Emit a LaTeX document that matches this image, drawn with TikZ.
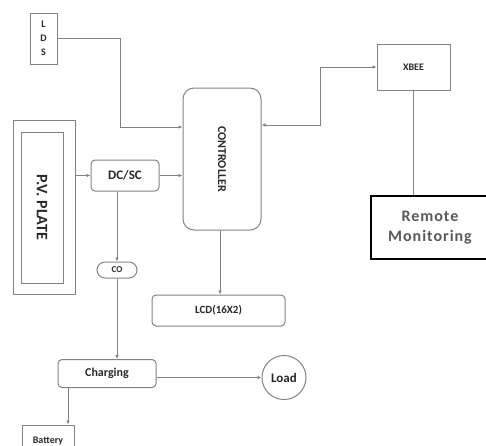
\documentclass[tikz,border=0pt]{standalone}
\usepackage{fontspec}
\setmainfont{Carlito}
\newfontfamily\spacedfont[LetterSpace=6]{Carlito}
\usepackage{tikz}
\usetikzlibrary{arrows.meta, positioning}
\definecolor{figline}{RGB}{130,130,130}
\definecolor{figtext}{RGB}{40,40,40}
\tikzstyle{arrow} = [-{Latex[length=4pt, width=3.5pt]}, line width=1pt, draw=figline]
\tikzstyle{plain} = [line width=1pt, draw=figline]
\tikzset{
    block/.style={draw=figline, line width=1pt, inner sep=0pt, text=figtext, font=\bfseries},
    softblock/.style={block, rounded corners=4pt},
}

\begin{document}
\begin{tikzpicture}[x=1pt, y=-1pt]
    \useasboundingbox (0,0) rectangle (486,445);

    % sensors and source
    \node[block, minimum width=27, minimum height=51, align=center,
        font=\bfseries\fontsize{10}{14}\selectfont] (lds) at (43.5,38.5) {L\\D\\S};
    \node[block, minimum width=62, minimum height=174] (pvframe) at (44,207) {};
    \node[block, minimum width=151, minimum height=42, rotate=-90,
        font=\bfseries\fontsize{16}{16}\selectfont] (pv) at (42,207.5) {P.V. PLATE};

    % conversion chain
    \node[softblock, minimum width=68, minimum height=31,
        font=\bfseries\fontsize{13}{13}\selectfont] (dcsc) at (125,175.5) {DC/SC};
    \node[block, rounded corners=8pt, minimum width=40, minimum height=16,
        font=\bfseries\fontsize{9}{9}\selectfont] (co) at (117,270) {CO};
    \node[softblock, minimum width=98, minimum height=28,
        font=\bfseries\fontsize{12}{12}\selectfont] (charging) at (107,373.5) {Charging};
    \node[block, circle, minimum size=44,
        font=\bfseries\fontsize{13}{13}\selectfont] (load) at (284,377.5) {Load};
    \node[block, minimum width=52, minimum height=30, text depth=-6pt,
        font=\bfseries\fontsize{10}{10}\selectfont] (battery) at (48,440) {Battery};

    % control side
    \node[block, rounded corners=11pt, minimum width=142, minimum height=78,
        rotate=-90, font=\bfseries\fontsize{12}{12}\selectfont] (ctrl) at (222,159)
        {CONTROLLER};
    \node[softblock, minimum width=133, minimum height=31,
        font=\bfseries\fontsize{11}{11}\selectfont] (lcd) at (218.5,310.5) {LCD(16X2)};
    \node[block, minimum width=73, minimum height=46,
        font=\bfseries\fontsize{10}{10}\selectfont] (xbee) at (413.5,67) {XBEE};
    \node[draw=black, line width=1.6pt, inner sep=0pt, minimum width=118,
        minimum height=63, align=center, text=black!65,
        font=\spacedfont\bfseries\fontsize{16}{20}\selectfont] (remote) at (430,227.5)
        {Remote\\Monitoring};

    % connectors
    \draw[arrow] (lds.east) -- ++(63,0) |- ([yshift=32pt]ctrl.south);
    \draw[arrow] (pvframe.east |- dcsc.west) -- (dcsc.west);
    \draw[arrow] (dcsc.east) -- (dcsc.east -| ctrl.south);
    \draw[{Latex[length=4pt, width=3.5pt]}-{Latex[length=4pt, width=3.5pt]}, plain]
        ([yshift=34pt]ctrl.north) -- ++(59,0) |- (xbee.west);
    \draw[plain] (xbee.south) -- (xbee.south |- remote.north);
    \draw[arrow] ([xshift=-2pt]ctrl.east) -- ([xshift=-2pt]ctrl.east |- lcd.north);
    \draw[arrow] (dcsc.south -| co.north) -- (co.north);
    \draw[arrow] (co.south) -- (co.south |- charging.north);
    \draw[arrow] ([yshift=-4pt]charging.east) -- ([yshift=-4pt]charging.east -| load.west);
    \draw[arrow] ([xshift=-39pt]charging.south) -- ([xshift=-39pt]charging.south |- battery.north);
\end{tikzpicture}
\end{document}
